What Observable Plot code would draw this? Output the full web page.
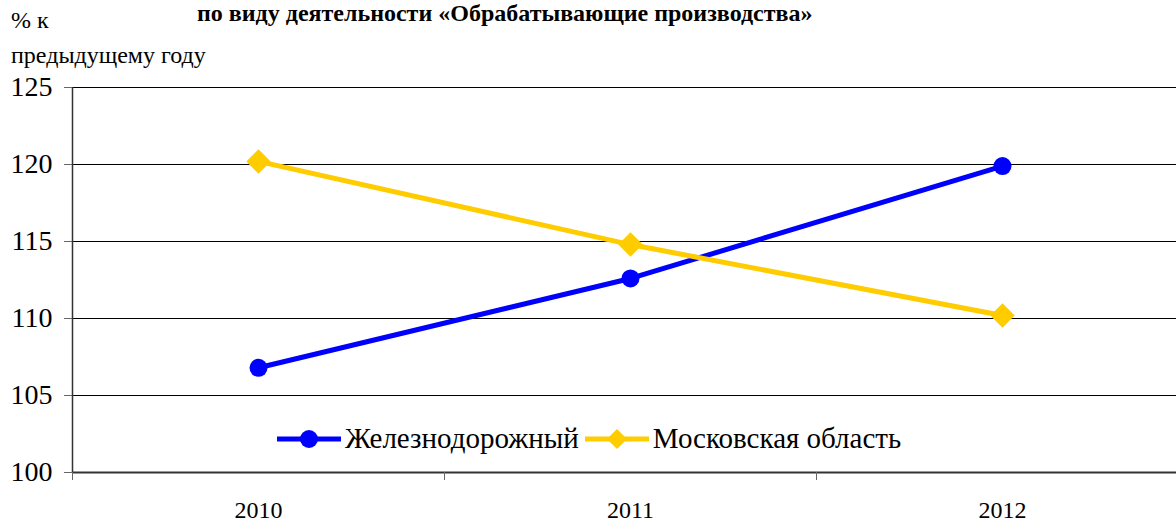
<!DOCTYPE html>
<html>
<head>
<meta charset="utf-8">
<script src="https://cdn.jsdelivr.net/npm/d3@7"></script>
<script src="https://cdn.jsdelivr.net/npm/@observablehq/plot@0.6"></script>
<style>
  html, body { margin: 0; padding: 0; background: #fff; overflow: hidden; }
  #wrap { position: relative; width: 1176px; height: 522px; overflow: hidden; font-family: "Liberation Serif", Tinos, "Times New Roman", Times, "DejaVu Serif", serif; }
  #chart svg { display: block; overflow: hidden; }
  .ov { position: absolute; white-space: nowrap; line-height: 1; color: #000; }
  #title { font-weight: bold; font-size: 24px; left: 197px; top: 1px; }
  #yl1 { font-size: 24px; left: 11px; top: 8px; }
  #yl2 { font-size: 24px; left: 11px; top: 43px; }
  #legend { left: 277px; top: 424px; display: flex; align-items: center; font-size: 29px; }
  #legend .item { display: flex; align-items: center; margin-right: 6px; }
  #legend svg { display: block; margin-right: 4px; }
</style>
</head>
<body>
<div id="wrap">
  <div id="chart"></div>
  <div class="ov" id="title"></div>
  <div class="ov" id="yl1"></div>
  <div class="ov" id="yl2"></div>
  <div class="ov" id="legend"></div>
</div>
<script>
const titleText = "по виду деятельности «Обрабатывающие производства»";
const yLabelLines = ["% к", "предыдущему году"];
const years = ["2010", "2011", "2012"];
const seriesNames = ["Железнодорожный", "Московская область"];
const zheleznodorozhny = [106.8, 112.6, 119.9];
const moskovskaya = [120.2, 114.8, 110.2];
const yTicks = [100, 105, 110, 115, 120, 125];
const colors = ["#0000ff", "#ffcc00"];

const idx = years.map((_, i) => i + 1);
const dataZ = years.map((y, i) => ({i: i + 1, year: y, v: zheleznodorozhny[i]}));
const dataM = years.map((y, i) => ({i: i + 1, year: y, v: moskovskaya[i]}));
const bounds = d3.range(0.5, years.length + 1, 1);

const font = '"Liberation Serif", Tinos, "Times New Roman", Times, "DejaVu Serif", serif';

const plot = Plot.plot({
  width: 1176,
  height: 522,
  marginTop: 87,
  marginBottom: 50,
  marginLeft: 72,
  marginRight: 0,
  style: {fontFamily: font, color: "#000", background: "#fff"},
  x: {type: "linear", domain: [0.5, years.length + 0.5], range: [72, 1188], axis: null},
  y: {domain: [100, 125], range: [472, 87], axis: null},
  marks: [
    Plot.ruleY(yTicks.slice(1), {stroke: "#000", strokeWidth: 1}),
    Plot.ruleX([0.5], {y1: 100, y2: 125, stroke: "#333", strokeWidth: 1.5}),
    Plot.ruleY([100], {stroke: "#333", strokeWidth: 2}),
    Plot.axisY(yTicks, {anchor: "left", tickSize: 8, tickPadding: 12, fontSize: 28, stroke: "#666", label: null}),
    Plot.axisX(bounds, {anchor: "bottom", tickSize: 8, tickFormat: () => "", stroke: "#666", label: null}),
    Plot.axisX(idx, {anchor: "bottom", tickSize: 0, tickPadding: 28, fontSize: 24, tickFormat: d => years[d - 1], label: null}),
    Plot.line(dataZ, {x: "i", y: "v", stroke: colors[0], strokeWidth: 5}),
    Plot.dot(dataZ, {x: "i", y: "v", r: 9, fill: colors[0], stroke: "none"}),
    Plot.line(dataM, {x: "i", y: "v", stroke: colors[1], strokeWidth: 5}),
    Plot.dot(dataM, {x: "i", y: "v", r: 11, symbol: "diamond2", fill: colors[1], stroke: "none"})
  ]
});
document.getElementById("chart").appendChild(plot);

document.getElementById("title").textContent = titleText;
document.getElementById("yl1").textContent = yLabelLines[0];
document.getElementById("yl2").textContent = yLabelLines[1];

const leg = document.getElementById("legend");
seriesNames.forEach((name, k) => {
  const item = document.createElement("div");
  item.className = "item";
  const marker = k === 0
    ? `<circle cx="32" cy="12" r="9" fill="${colors[k]}"/>`
    : `<path d="M32,2 L42,12 L32,22 L22,12 Z" fill="${colors[k]}"/>`;
  item.innerHTML = `<svg width="64" height="24"><line x1="0" y1="12" x2="64" y2="12" stroke="${colors[k]}" stroke-width="5"/>${marker}</svg><span>${name}</span>`;
  leg.appendChild(item);
});
</script>
</body>
</html>
